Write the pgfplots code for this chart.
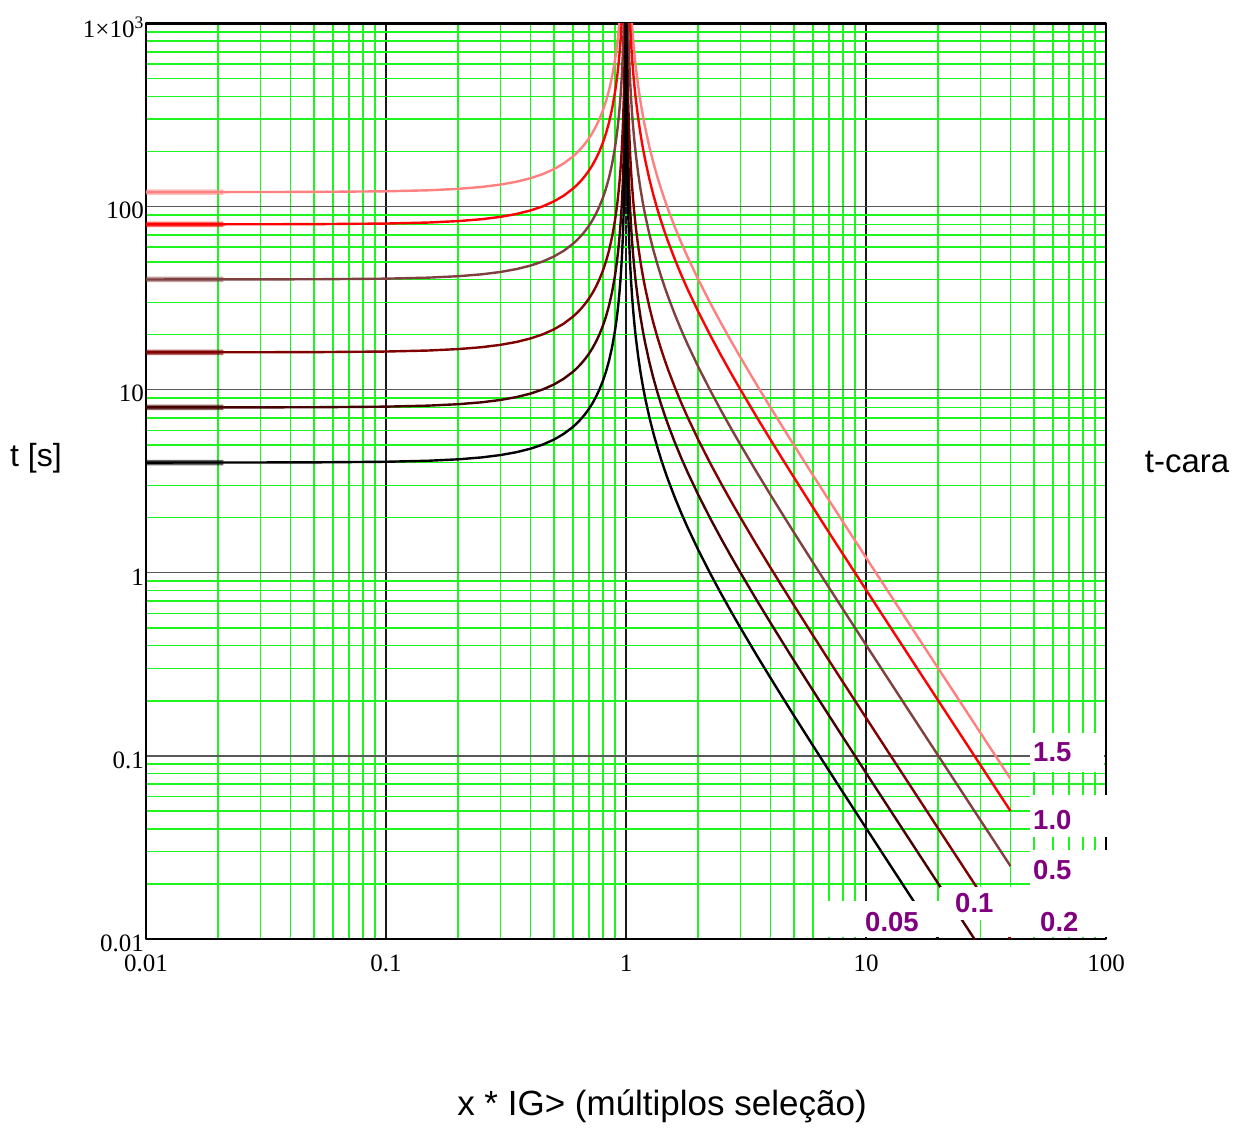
\documentclass[border=0pt]{standalone}
\usepackage{fontspec}
\setmainfont{Liberation Serif}
\newfontfamily\arial{Liberation Sans}
\usepackage{pgfplots}
\pgfplotsset{compat=1.18}
\usepackage{pgfplotstable}

\definecolor{gridgreen}{RGB}{30,245,30}
\definecolor{cA}{RGB}{0,0,0}
\definecolor{cB}{RGB}{70,0,0}
\definecolor{cC}{RGB}{128,0,0}
\definecolor{cD}{RGB}{128,64,64}
\definecolor{cE}{RGB}{255,0,0}
\definecolor{cF}{RGB}{255,128,128}
\definecolor{lblpurple}{RGB}{128,0,128}

\pgfplotstableread{
x c005 c01 c02 c05 c10 c15
0.01 4.0004 8.0008 16.002 40.004 80.008 120.01
0.02 4.0016 8.0032 16.006 40.016 80.032 120.05
0.05 4.01 8.02 16.04 40.1 80.2 120.3
0.1 4.0404 8.0808 16.162 40.404 80.808 121.21
0.15 4.0921 8.1841 16.368 40.921 81.841 122.76
0.2 4.1667 8.3333 16.667 41.667 83.333 125
0.25 4.2667 8.5333 17.067 42.667 85.333 128
0.3 4.3956 8.7912 17.582 43.956 87.912 131.87
0.35 4.5584 9.1168 18.234 45.584 91.168 136.75
0.4 4.7619 9.5238 19.048 47.619 95.238 142.86
0.45 5.0155 10.031 20.062 50.155 100.31 150.47
0.5 5.3333 10.667 21.333 53.333 106.67 160
0.55 5.735 11.47 22.94 57.35 114.70 172.05
0.6 6.25 12.5 25 62.5 125 187.5
0.625 6.564 13.128 26.256 65.64 131.28 196.92
0.65 6.9264 13.853 27.706 69.264 138.53 207.79
0.675 7.348 14.696 29.392 73.48 146.96 220.44
0.7 7.8431 15.686 31.373 78.431 156.86 235.29
0.725 8.432 16.864 33.728 84.32 168.64 252.96
0.75 9.1429 18.286 36.571 91.429 182.86 274.29
0.775 10.016 20.031 40.062 100.16 200.31 300.47
0.8 11.111 22.222 44.444 111.11 222.22 333.33
0.825 12.525 25.049 50.098 125.25 250.49 375.74
0.85 14.414 28.829 57.658 144.14 288.29 432.43
0.875 17.067 34.133 68.267 170.67 341.33 512
0.9 21.053 42.105 84.211 210.53 421.05 631.58
0.91 23.27 46.539 93.078 232.70 465.39 698.09
0.92 26.042 52.083 104.17 260.42 520.83 781.25
0.93 29.608 59.215 118.43 296.08 592.15 888.23
0.94 34.364 68.729 137.46 343.64 687.29 1030.9
0.95 41.026 82.051 164.10 410.26 820.51 1230.8
0.96 51.02 102.04 204.08 510.2 1020.4 1530.6
0.97 67.682 135.36 270.73 676.82 1353.6 2030.5
0.98 101.01 202.02 404.04 1010.1 2020.2 3030.3
0.99 201.01 402.01 804.02 2010.1 4020.1 6030.2
0.995 401.0 802.0 1604.0 4010.0 8020.1 12030
0.998 1001 2002 4004 10010 20020 30030
0.999 2001 4002 8004 20010 40020 60030
1.001 1999 3998 7996 19990 39980 59970
1.002 999 1998 3996 9990 19980 29970
1.005 399 798 1596 3990 7980 11970
1.01 199.0 398.01 796.02 1990.0 3980.1 5970.1
1.02 99.01 198.02 396.04 990.1 1980.2 2970.3
1.03 65.68 131.36 262.72 656.8 1313.6 1970.4
1.04 49.02 98.039 196.08 490.2 980.39 1470.6
1.05 39.024 78.049 156.10 390.24 780.49 1170.7
1.06 32.362 64.725 129.45 323.62 647.25 970.87
1.07 27.605 55.21 110.42 276.05 552.10 828.15
1.08 24.038 48.077 96.154 240.38 480.77 721.15
1.09 21.266 42.531 85.062 212.66 425.31 637.97
1.1 19.048 38.095 76.19 190.48 380.95 571.43
1.125 15.059 30.118 60.236 150.59 301.18 451.77
1.15 12.403 24.806 49.612 124.03 248.06 372.09
1.175 10.509 21.018 42.036 105.09 210.18 315.27
1.2 9.0909 18.182 36.364 90.909 181.82 272.73
1.25 7.111 14.222 28.444 71.11 142.22 213.33
1.3 5.7971 11.594 23.188 57.971 115.94 173.91
1.35 4.8632 9.7264 19.453 48.632 97.264 145.90
1.4 4.1667 8.3333 16.667 41.667 83.333 125
1.45 3.6281 7.2562 14.512 36.281 72.562 108.84
1.5 3.2 6.4 12.8 32 64 96
1.6 2.5641 5.1282 10.256 25.641 51.282 76.923
1.7 2.1164 4.2328 8.4656 21.164 42.328 63.492
1.8 1.7857 3.5714 7.1429 17.857 35.714 53.571
2 1.3333 2.6667 5.3333 13.333 26.667 40
2.25 0.9846 1.9692 3.9385 9.846 19.692 29.538
2.5 0.7619 1.5238 3.0476 7.619 15.238 22.857
2.75 0.6095 1.219 2.438 6.095 12.19 18.286
3 0.5 1 2 5 10 15
3.5 0.35556 0.71111 1.4222 3.5556 7.1111 10.667
4 0.26667 0.53333 1.0667 2.6667 5.3333 8
4.5 0.20779 0.41558 0.83117 2.0779 4.1558 6.2338
5 0.16667 0.33333 0.66667 1.6667 3.3333 5
6 0.11429 0.22857 0.45714 1.1429 2.2857 3.4286
7 0.083333 0.16667 0.33333 0.83333 1.6667 2.5
8 0.063492 0.12698 0.25397 0.63492 1.2698 1.9048
10 0.040404 0.080808 0.16162 0.40404 0.80808 1.2121
12 0.027972 0.055944 0.11189 0.27972 0.55944 0.83916
15 0.017857 0.035714 0.071429 0.17857 0.35714 0.53571
20 0.010025 0.02005 0.0401 0.10025 0.2005 0.30075
30 0.0044494 0.0088988 0.017798 0.044494 0.088988 0.13348
40 0.0025016 0.0050031 0.010006 0.025016 0.050031 0.075047
}\curves

\pgfplotstableread{
x c005 c01 c02 c05 c10 c15
0.01 4.0004 8.0008 16.002 40.004 80.008 120.01
0.021 4.0018 8.0035 16.007 40.018 80.035 120.05
}\startseg

\begin{document}
\begin{tikzpicture}
\begin{axis}[
  at={(0pt,0pt)}, anchor=south west,
  scale only axis, width=960pt, height=915.5pt,
  xmode=log, ymode=log,
  xmin=0.01, xmax=100, ymin=0.01, ymax=1000,
  xtick={0.01,0.1,1,10,100},
  xticklabels={0.01,0.1,1,10,100},
  ytick={0.01,0.1,1,10,100,1000},
  yticklabels={0.01,0.1,1,10,100,1\texttimes10\textsuperscript{3}},
  minor xtick={0.02,0.03,0.04,0.05,0.06,0.07,0.08,0.09,0.2,0.3,0.4,0.5,0.6,0.7,0.8,0.9,2,3,4,5,6,7,8,9,20,30,40,50,60,70,80,90},
  minor ytick={0.02,0.03,0.04,0.05,0.06,0.07,0.08,0.09,0.2,0.3,0.4,0.5,0.6,0.7,0.8,0.9,2,3,4,5,6,7,8,9,20,30,40,50,60,70,80,90,200,300,400,500,600,700,800,900},
  major tick length=0pt, minor tick length=0pt,
  grid=both,
  minor grid style={gridgreen, line width=1.6pt},
  major x grid style={black!90, line width=1.3pt},
  major y grid style={black!65, line width=1.3pt},
  axis line style={black, line width=2.5pt},
  tick label style={font=\fontsize{25}{30}\selectfont},
  yticklabel style={anchor=east, inner sep=0pt, xshift=-2pt, yshift=-4pt},
  xticklabel style={anchor=north, inner sep=0pt, yshift=-16pt},
  line join=round,
]
\addplot[cF, line width=5.5pt, opacity=0.5] table[x=x,y=c15]{\startseg};
\addplot[cE, line width=5.5pt, opacity=0.6] table[x=x,y=c10]{\startseg};
\addplot[cD, line width=5.5pt, opacity=0.5] table[x=x,y=c05]{\startseg};
\addplot[cC, line width=5.5pt, opacity=0.6] table[x=x,y=c02]{\startseg};
\addplot[cB, line width=5.5pt, opacity=0.6] table[x=x,y=c01]{\startseg};
\addplot[cA, line width=5.5pt, opacity=0.6] table[x=x,y=c005]{\startseg};
\addplot[cF, line width=2.4pt] table[x=x,y=c15]{\curves};
\addplot[cE, line width=2.4pt] table[x=x,y=c10]{\curves};
\addplot[cD, line width=2.4pt] table[x=x,y=c05]{\curves};
\addplot[cC, line width=2.4pt] table[x=x,y=c02]{\curves};
\addplot[cB, line width=2.4pt] table[x=x,y=c01]{\curves};
\addplot[cA, line width=2.4pt] table[x=x,y=c005]{\curves};
\end{axis}
% white label boxes
\fill[white] (884pt,167pt) rectangle (958pt,206pt);
\fill[white] (884pt,102pt) rectangle (963pt,144pt);
\fill[white] (884pt,52pt) rectangle (963pt,89pt);
\fill[white] (844pt,2pt) rectangle (963pt,52pt);
\fill[white] (794pt,19pt) rectangle (884pt,52pt);
\fill[white] (682pt,2pt) rectangle (812pt,38pt);
\begin{scope}[every node/.style={anchor=west, inner sep=0pt, text=lblpurple, font=\arial\bfseries\fontsize{27.5}{32}\selectfont}]
\node at (887pt,187pt) {1.5};
\node at (887pt,119pt) {1.0};
\node at (887pt,69pt) {0.5};
\node at (894pt,17pt) {0.2};
\node at (809pt,36pt) {0.1};
\node at (719pt,17pt) {0.05};
\end{scope}
\node[font=\arial\fontsize{32}{38}\selectfont, inner sep=0pt] at (-110pt,481pt) {t [s]};
\node[font=\arial\fontsize{33}{40}\selectfont, inner sep=0pt] at (1041pt,477pt) {t-cara};
\node[font=\arial\fontsize{35}{42}\selectfont, inner sep=0pt] at (516pt,-167pt) {x * IG> (múltiplos seleção)};
\path[use as bounding box] (-146pt,-189pt) rectangle (1098pt,939pt);
\end{tikzpicture}
\end{document}
